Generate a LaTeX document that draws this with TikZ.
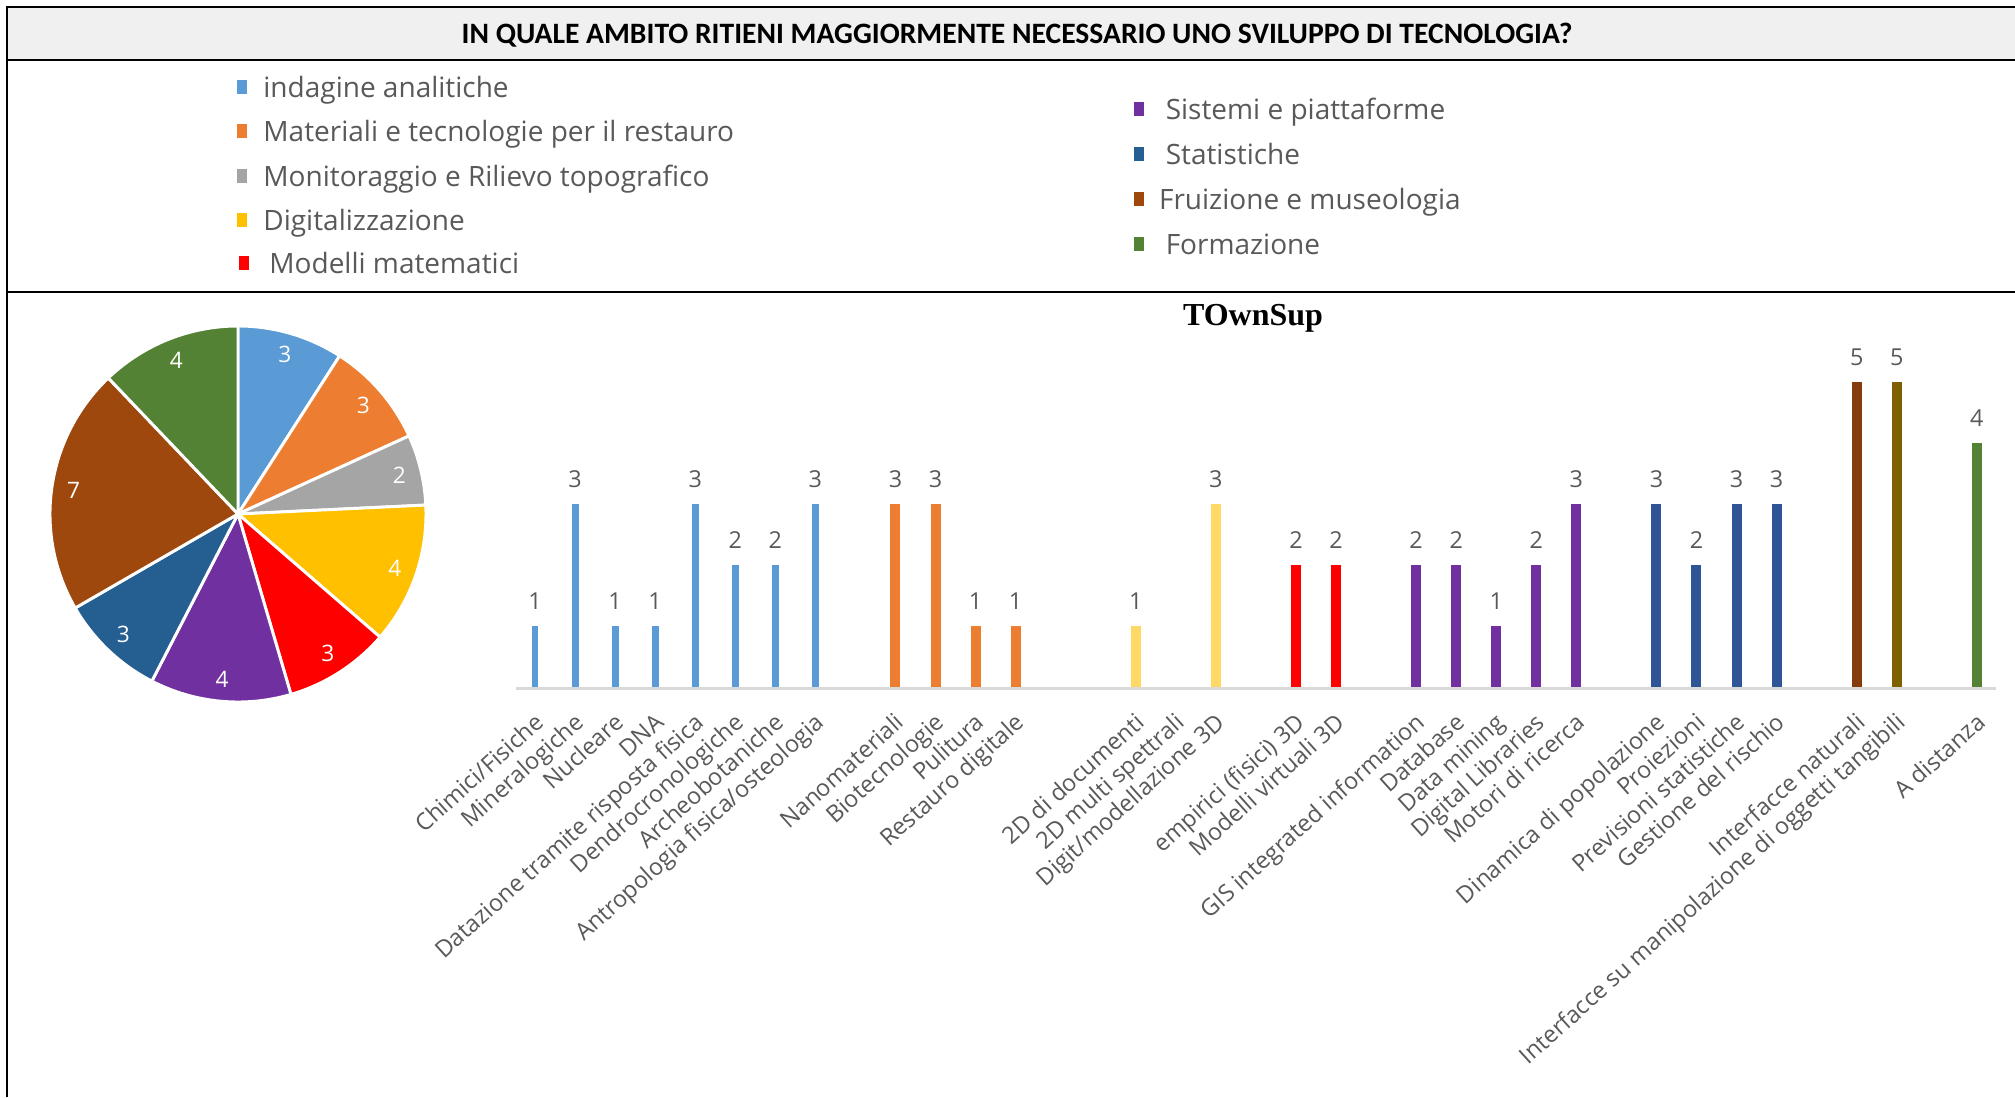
\documentclass[tikz,border=0pt]{standalone}
\usepackage{fontspec}
\setmainfont{Open Sans}
\newfontfamily\headfont{Carlito}
\newfontfamily\serifhead{Liberation Serif}
\usetikzlibrary{positioning}
\usetikzlibrary{calc}

\definecolor{bandgray}{HTML}{F0F0F0}
\definecolor{txtgray}{HTML}{595959}
\definecolor{axisgray}{HTML}{D9D9D9}
\definecolor{pieblue}{HTML}{5B9BD5}
\definecolor{pieorange}{HTML}{ED7D31}
\definecolor{piegray}{HTML}{A5A5A5}
\definecolor{pieyellow}{HTML}{FFC000}
\definecolor{piered}{HTML}{FF0000}
\definecolor{piepurple}{HTML}{7030A0}
\definecolor{piedblue}{HTML}{255E91}
\definecolor{piebrown}{HTML}{9E480E}
\definecolor{piegreen}{HTML}{548235}
\definecolor{baryellow}{HTML}{FFD966}
\definecolor{bardblue}{HTML}{2F5597}
\definecolor{barbrown}{HTML}{843C0C}
\definecolor{barolive}{HTML}{7F6000}

\begin{document}
\begin{tikzpicture}[x=0.75pt,y=-0.75pt,
					semithick]
					\tikzstyle{frame}=[black,line width=1.9pt]
					\tikzstyle{legbox}=[minimum width=7.5pt,minimum height=11pt,inner sep=0pt,outer sep=0pt]
					\tikzstyle{legtext}=[anchor=west,inner sep=0pt,text=txtgray,text height=15pt,text depth=0pt,font=\fontsize{21}{25}\selectfont]
					\tikzstyle{pielabel}=[inner sep=0pt,text=white,font=\fontsize{17}{20}\selectfont]
					\tikzstyle{bar}=[anchor=south,inner sep=0pt,outer sep=0pt,minimum height=0pt]
					\tikzstyle{vallabel}=[inner sep=0pt,text=txtgray,font=\fontsize{17.5}{20}\selectfont]
					\tikzstyle{catlabel}=[anchor=north east,rotate=42,inner sep=0pt,text=txtgray,text height=13.4pt,text depth=4.2pt,font=\fontsize{17.6}{21}\selectfont]
					
					\useasboundingbox (0,0) rectangle (2015,1097);
					\fill[white] (0,0) rectangle (2015,1097);
					\fill[bandgray] (7,7) rectangle (2015,60);
					\draw[frame] (2015,7) -- (7,7) -- (7,1097);
					\draw[frame] (7,60) -- (2015,60);
					\draw[frame] (7,292) -- (2015,292);
					
					\node[font=\headfont\bfseries\fontsize{22.2}{26}\selectfont] (title) at (1017,35) {IN QUALE AMBITO RITIENI MAGGIORMENTE NECESSARIO UNO SVILUPPO DI TECNOLOGIA?};
					
					\node[legbox,fill=pieblue]   (k_1) at (242,87)  {};
					\node[legbox,fill=pieorange] (k_2) at (242,131) {};
					\node[legbox,fill=piegray]   (k_3) at (242,176) {};
					\node[legbox,fill=pieyellow] (k_4) at (242,220) {};
					\node[legbox,fill=piered]    (k_5) at (244,263) {};
					\node[legbox,fill=piepurple] (k_6) at (1139,109) {};
					\node[legbox,fill=piedblue]  (k_7) at (1139,154) {};
					\node[legbox,fill=piebrown]  (k_8) at (1139,199) {};
					\node[legbox,fill=piegreen]  (k_9) at (1139,244) {};
					\node[legtext,right=12pt of k_1] (l_1) {indagine analitiche};
					\node[legtext,right=12pt of k_2] (l_2) {Materiali e tecnologie per il restauro};
					\node[legtext,right=12pt of k_3] (l_3) {Monitoraggio e Rilievo topografico};
					\node[legtext,right=12pt of k_4] (l_4) {Digitalizzazione};
					\node[legtext,right=15pt of k_5] (l_5) {Modelli matematici};
					\node[legtext,right=16pt of k_6] (l_6) {Sistemi e piattaforme};
					\node[legtext,right=16pt of k_7] (l_7) {Statistiche};
					\node[legtext,right=11pt of k_8] (l_8) {Fruizione e museologia};
					\node[legtext,right=16pt of k_9] (l_9) {Formazione};
					
					\coordinate (pc) at (238,514);
					\foreach \a/\b/\c/\v [count=\i] in {0/3/pieblue/3,3/6/pieorange/3,6/8/piegray/2,8/12/pieyellow/4,12/15/piered/3,15/19/piepurple/4,19/22/piedblue/3,22/29/piebrown/7,29/33/piegreen/4}{
						\pgfmathsetmacro\sa{-90+\a*360/33}
						\pgfmathsetmacro\sb{-90+\b*360/33}
						\pgfmathsetmacro\sm{(\sa+\sb)/2}
						\filldraw[fill=\c,draw=white,line width=2.2pt,line join=round] (pc) -- ++(\sa:188) arc[start angle=\sa,end angle=\sb,radius=188] -- cycle;
						\node[pielabel] (p_\i) at ($(pc)+(\sm:166)$) {\v};
					}
					
					\node[font=\serifhead\bfseries\fontsize{24}{28}\selectfont,anchor=base] (ctitle) at (1253,325) {TOwnSup};
					
					\coordinate (ax_0) at (516,688);
					\coordinate (ax_1) at (1996,688);
					\draw[axisgray,line width=2.25pt] (ax_0) -- (ax_1);
					
					\foreach \k/\v/\c/\w [count=\i] in {0/1/pieblue/5.2,1/3/pieblue/5.2,2/1/pieblue/5.2,3/1/pieblue/5.2,4/3/pieblue/5.2,5/2/pieblue/5.2,6/2/pieblue/5.2,7/3/pieblue/5.2,
						9/3/pieorange/7.5,10/3/pieorange/7.5,11/1/pieorange/7.5,12/1/pieorange/7.5,
						15/1/baryellow/7.5,17/3/baryellow/7.5,
						19/2/piered/7.5,20/2/piered/7.5,
						22/2/piepurple/7.5,23/2/piepurple/7.5,24/1/piepurple/7.5,25/2/piepurple/7.5,26/3/piepurple/7.5,
						28/3/bardblue/7.5,29/2/bardblue/7.5,30/3/bardblue/7.5,31/3/bardblue/7.5,
						33/5/barbrown/7.5,34/5/barolive/7.5,36/4/piegreen/7.5}{
						\pgfmathsetmacro\bx{535+40.05*\k}
						\pgfmathsetmacro\bh{45.75*\v}
						\node[bar,fill=\c,minimum width=\w pt,minimum height=\bh pt] (b_\i) at (\bx,687) {};
						\node[vallabel,above=12pt of b_\i] (v_\i) {\v};
					}
					
					\foreach \k/\t [count=\i] in {0/{Chimici/Fisiche},1/Mineralogiche,2/Nucleare,3/DNA,4/Datazione tramite risposta fisica,5/Dendrocronologiche,6/Archeobotaniche,7/{Antropologia fisica/osteologia},
						9/Nanomateriali,10/Biotecnologie,11/Pulitura,12/Restauro digitale,
						15/2D di documenti,16/2D multi spettrali,17/{Digit/modellazione 3D},
						19/{empirici (fisici) 3D},20/Modelli virtuali 3D,
						22/GIS integrated information,23/Database,24/Data mining,25/Digital Libraries,26/Motori di ricerca,
						28/Dinamica di popolazione,29/Proiezioni,30/Previsioni statistiche,31/Gestione del rischio,
						33/Interfacce naturali,34/Interfacce su manipolazione di oggetti tangibili,36/A distanza}{
						\pgfmathsetmacro\bx{535+40.05*\k-2}
						\node[catlabel] (c_\i) at (\bx,711) {\t};
					}
\end{tikzpicture}
\end{document}
